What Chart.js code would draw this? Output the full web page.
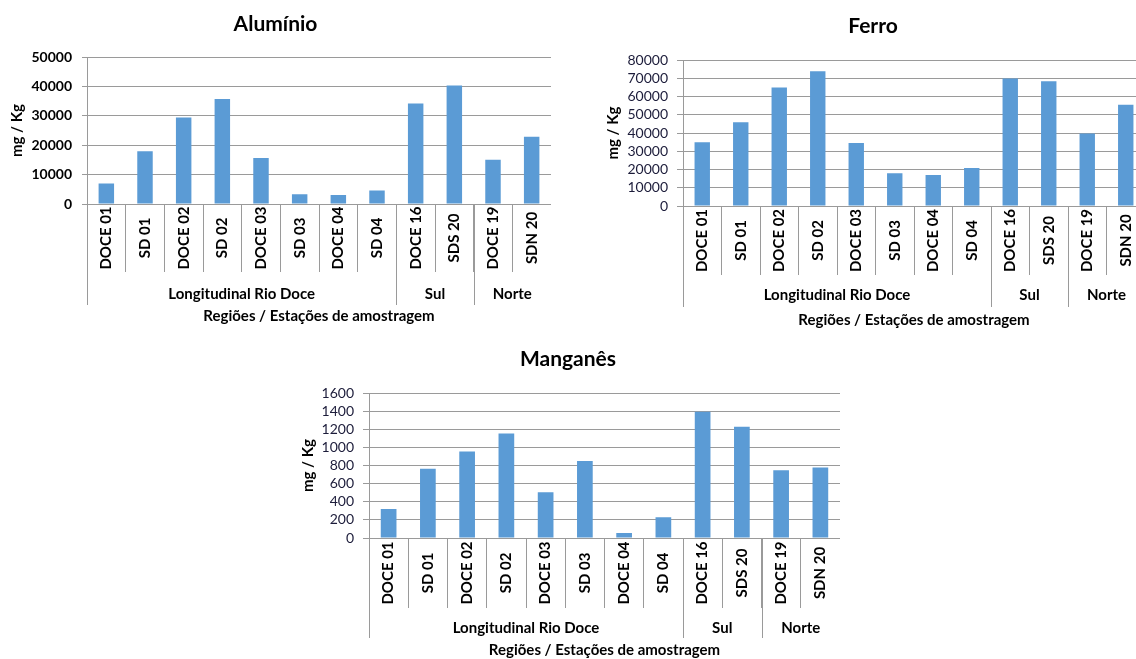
<!DOCTYPE html>
<html>
<head>
<meta charset="utf-8">
<script src="https://cdn.jsdelivr.net/npm/chart.js@4"></script>
<style>
  html, body { margin: 0; padding: 0; background: #fff; }
  body { width: 1136px; height: 659px; overflow: hidden; position: relative; }
  canvas { position: absolute; }
</style>
</head>
<body>
<canvas id="alChart" width="551" height="330" style="left:0;top:0"></canvas>
<canvas id="feChart" width="544" height="335" style="left:601px;top:0"></canvas>
<canvas id="mnChart" width="544" height="319" style="left:296px;top:340px"></canvas>
<script>
// sampling stations, in the order they sit on the x axis
const stations = ['DOCE 01', 'SD 01', 'DOCE 02', 'SD 02', 'DOCE 03', 'SD 03', 'DOCE 04', 'SD 04', 'DOCE 16', 'SDS 20', 'DOCE 19', 'SDN 20'];
// regions and how many stations each one spans
const regions = ['Longitudinal Rio Doce', 'Sul', 'Norte'];
const regionSizes = [8, 2, 2];

// concentrations, mg / Kg
const aluminio = [7000, 18000, 29500, 35800, 15700, 3300, 3100, 4600, 34200, 40400, 15100, 22900];
const ferro = [35000, 46000, 65000, 74000, 34500, 18000, 17000, 20800, 70000, 68500, 39800, 55500];
const manganes = [320, 765, 955, 1155, 505, 850, 55, 230, 1395, 1230, 748, 778];

// y axis ranges: [max, step]
const alRange = [50000, 10000];
const feRange = [80000, 10000];
const mnRange = [1600, 200];

const FONT = 'Lato, "Open Sans", sans-serif';
const GRID = '#9a9a9a';
const BAR = '#5B9BD5';

Chart.defaults.font.family = FONT;
Chart.defaults.animation = false;

// two-level category axis: rotated station names, then region bands
const stationAxis = {
  id: 'stationAxis',
  afterDraw(chart, args, opts) {
    const ctx = chart.ctx;
    const x = chart.scales.x;
    const step = x.width / stations.length;
    ctx.save();
    ctx.fillStyle = '#000';
    ctx.textAlign = 'center';
    ctx.textBaseline = 'middle';
    ctx.font = 'bold 15px ' + FONT;
    stations.forEach((name, i) => {
      ctx.save();
      ctx.translate(x.getPixelForValue(i), x.top + opts.labelBand / 2);
      ctx.rotate(-Math.PI / 2);
      ctx.fillText(name, 0, 0);
      ctx.restore();
    });

    ctx.strokeStyle = GRID;
    ctx.lineWidth = 1;
    const vline = (px) => {
      const p = Math.round(px) + 0.5;
      ctx.beginPath();
      ctx.moveTo(p, x.top);
      ctx.lineTo(p, x.top + opts.groupBand);
      ctx.stroke();
    };
    let start = 0;
    regions.forEach((name, k) => {
      const left = x.getPixelForValue(start) - step / 2;
      const right = x.getPixelForValue(start + regionSizes[k] - 1) + step / 2;
      vline(left);
      if (k === regions.length - 1) vline(right);
      ctx.fillText(name, (left + right) / 2, x.top + opts.nameY);
      start += regionSizes[k];
    });
    ctx.restore();
  }
};

function makeChart(id, title, values, range, L) {
  return new Chart(document.getElementById(id), {
    type: 'bar',
    data: {
      labels: stations,
      datasets: [{
        data: values,
        backgroundColor: BAR,
        barPercentage: 0.4,
        categoryPercentage: 1
      }]
    },
    options: {
      responsive: false,
      layout: { padding: 0 },
      plugins: {
        legend: { display: false },
        tooltip: { enabled: false },
        title: {
          display: true,
          text: title,
          color: '#000',
          font: { size: 21, weight: 'bold' },
          padding: L.titlePad
        },
        stationAxis: L.band
      },
      scales: {
        x: {
          afterFit: (s) => { s.height = L.xHeight; },
          ticks: { display: false },
          grid: { offset: true, drawOnChartArea: false, color: GRID, tickLength: L.band.labelBand },
          border: { color: GRID },
          title: {
            display: true,
            text: 'Regiões / Estações de amostragem',
            color: '#000',
            font: { size: 15, weight: 'bold' },
            padding: { top: 0, bottom: L.xTitleBottom }
          }
        },
        y: {
          min: 0,
          max: range[0],
          afterFit: (s) => { s.width = L.yWidth; },
          ticks: {
            stepSize: range[1],
            autoSkip: false,
            padding: L.tickPad,
            color: L.tickColor,
            font: { size: 14, weight: L.tickWeight },
            callback: (v) => String(v)
          },
          grid: { color: GRID, tickLength: L.tickLen },
          border: { color: GRID },
          title: {
            display: true,
            text: 'mg / Kg',
            color: '#000',
            font: { size: 15, weight: 'bold' },
            padding: { top: L.yTitleTop, bottom: 0 }
          }
        }
      }
    },
    plugins: [stationAxis]
  });
}

makeChart('alChart', 'Alumínio', aluminio, alRange, {
  titlePad: { top: 12, bottom: 20 },
  xHeight: 126, xTitleBottom: 5,
  yWidth: 87, yTitleTop: 8, tickPad: 10, tickLen: 5,
  tickColor: '#000', tickWeight: 'bold',
  band: { labelBand: 68, groupBand: 101, nameY: 90 }
});

makeChart('feChart', 'Ferro', ferro, feRange, {
  titlePad: { top: 14, bottom: 21 },
  xHeight: 129, xTitleBottom: 6,
  yWidth: 82, yTitleTop: 3, tickPad: 9, tickLen: 6,
  tickColor: '#1c1c3a', tickWeight: 'normal',
  band: { labelBand: 69, groupBand: 101, nameY: 89 }
});

makeChart('mnChart', 'Manganês', manganes, mnRange, {
  titlePad: { top: 7, bottom: 21 },
  xHeight: 121, xTitleBottom: 0,
  yWidth: 73, yTitleTop: 3, tickPad: 9, tickLen: 6,
  tickColor: '#1c1c3a', tickWeight: 'normal',
  band: { labelBand: 70, groupBand: 100, nameY: 90 }
});
</script>
</body>
</html>
